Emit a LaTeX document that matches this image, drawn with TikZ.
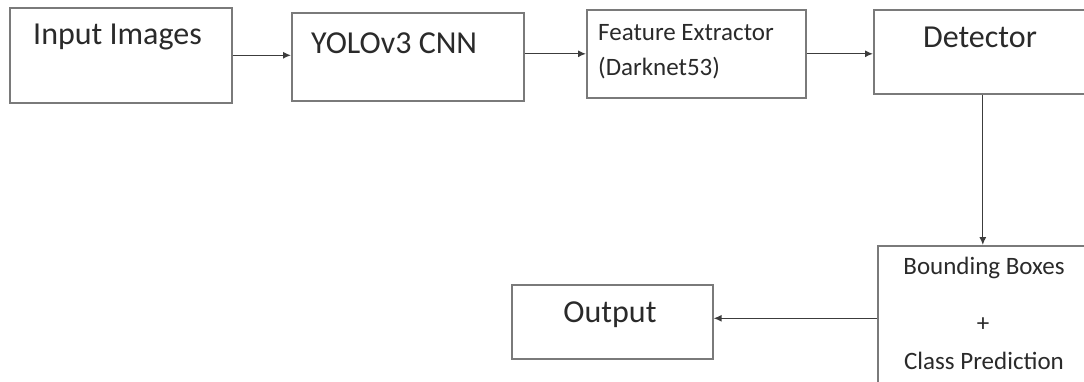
\documentclass[tikz,border=0pt]{standalone}
\usepackage{fontspec}
\setmainfont{Carlito}
\usetikzlibrary{arrows.meta,calc}
\definecolor{boxgray}{HTML}{7A7A7A}
\definecolor{arrgray}{HTML}{3C3C3C}
\definecolor{txtgray}{HTML}{2A2A2A}
\begin{document}
\begin{tikzpicture}[x=1pt,y=-1pt,
  box/.style={draw=boxgray, line width=1.6pt, anchor=north west, inner sep=0pt},
  arr/.style={draw=arrgray, line width=1.3pt, -{Latex[length=8pt,width=7pt]}},
  bigtxt/.style={inner sep=0pt, text=txtgray, font=\fontsize{32}{38}\selectfont},
  smalltxt/.style={inner sep=0pt, text=txtgray, font=\fontsize{25}{30}\selectfont}]
\useasboundingbox (0,0) rectangle (1084,381);
\fill[white] (0,0) rectangle (1084,381);
\clip (0,0) rectangle (1084,381);
% boxes
\node[box, minimum width=222pt, minimum height=95pt] (inp) at (9,7) {};
\node[box, minimum width=232pt, minimum height=88pt] (yolo) at (291,12) {};
\node[box, minimum width=219pt, minimum height=88pt] (fe) at (586,9) {};
\node[box, minimum width=218pt, minimum height=84pt] (det) at (873,9) {};
\node[box, minimum width=214pt, minimum height=145pt] (bb) at (877,245) {};
\node[box, minimum width=201pt, minimum height=74pt] (out) at (511,284) {};
% texts
\node[bigtxt, anchor=base west] (tinp) at (33,44) {Input Images};
\node[bigtxt, anchor=base west] (tyolo) at (311,53) {YOLOv3 CNN};
\node[smalltxt, anchor=base west] (tfe1) at (598,40) {Feature Extractor};
\node[smalltxt, anchor=base west] (tfe2) at (598,75) {(Darknet53)};
\node[bigtxt, anchor=base] (tdet) at (980,47) {Detector};
\node[smalltxt, anchor=base] (tbb1) at (984,274) {Bounding Boxes};
\node[smalltxt, anchor=center] (tbb2) at (983,325) {+};
\node[smalltxt, anchor=base] (tbb3) at (984,369) {Class Prediction};
\node[bigtxt, anchor=base] (tout) at (610,322) {Output};
% connectors
\draw[arr] (inp.east) -- (inp.east -| yolo.west);
\draw[arr] (fe.west -| yolo.east) -- (fe.west);
\draw[arr] (fe.east) -- (fe.east -| det.west);
\draw[arr] (det.south) -- (bb.north -| det.south);
\draw[arr] (bb.west) -- (bb.west -| out.east);
\end{tikzpicture}
\end{document}
